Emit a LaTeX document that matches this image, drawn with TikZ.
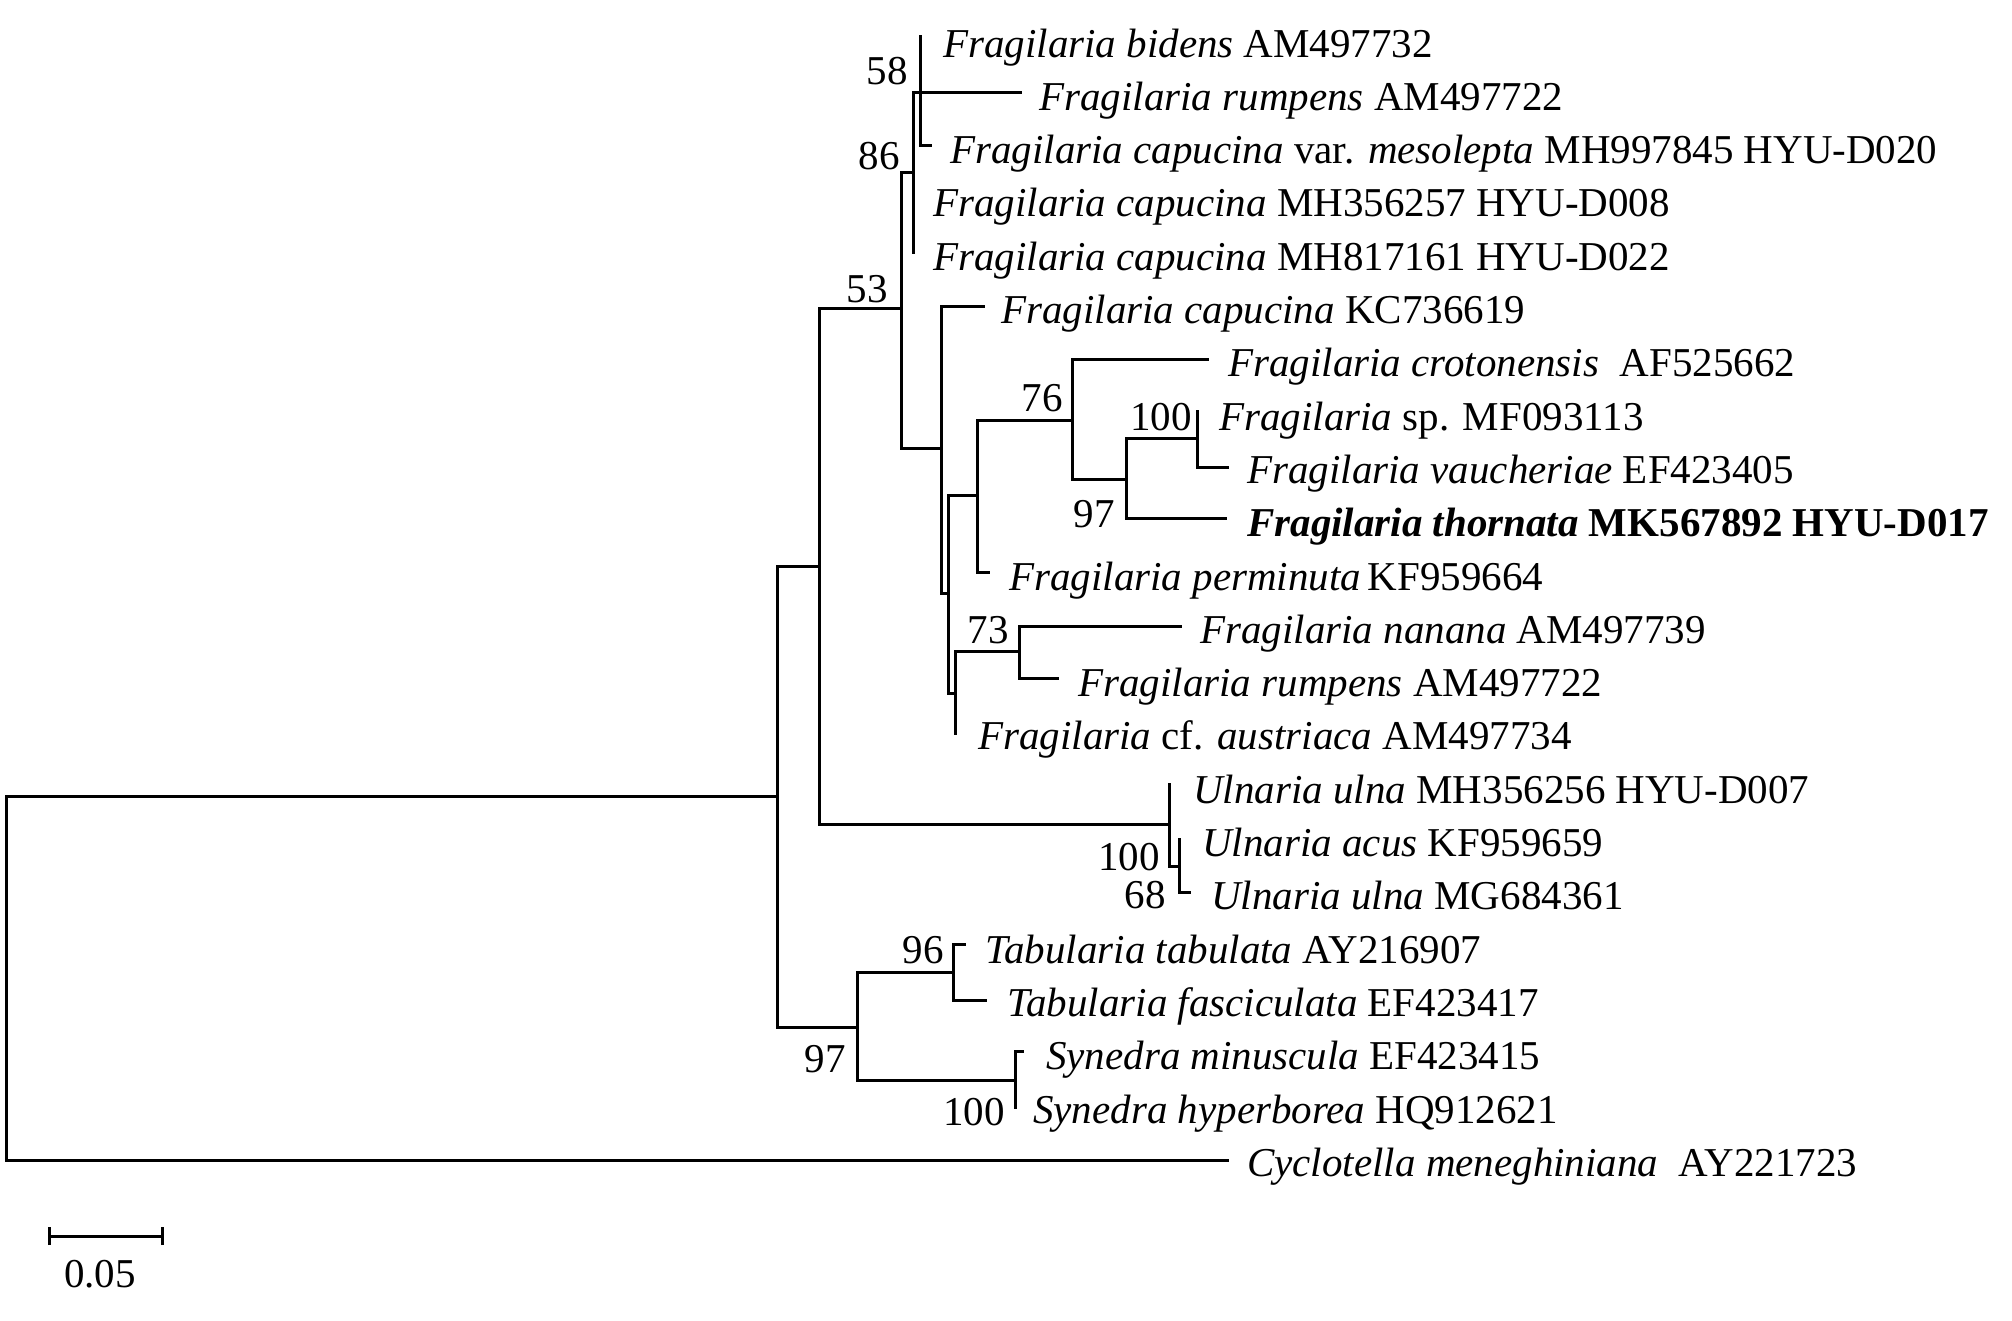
\documentclass[tikz,border=0pt]{standalone}
\usepackage{fontspec}
\setmainfont{Liberation Serif}
\begin{document}
\begin{tikzpicture}[x=1pt,y=-1pt,
  br/.style={line width=3pt,line cap=rect,line join=miter},
  taxon/.style={anchor=base west,inner sep=0pt,font=\fontsize{41}{41}\selectfont},
  boot/.style={anchor=base east,inner sep=0pt,font=\fontsize{41}{41}\selectfont}]
\useasboundingbox (0,0) rectangle (2012,1321);
% internal nodes
\coordinate (R) at (6,796);
\coordinate (A) at (777,796);
\coordinate (B) at (819,566);
\coordinate (N53) at (901,309);
\coordinate (N86) at (913,173);
\coordinate (N58) at (920,93);
\coordinate (C) at (941,448);
\coordinate (D) at (948,593);
\coordinate (F) at (977,495);
\coordinate (N76) at (1072,420);
\coordinate (N97) at (1126,479);
\coordinate (N100) at (1197,438);
\coordinate (E) at (955,693);
\coordinate (N73) at (1019,651);
\coordinate (U100) at (1169,824);
\coordinate (U68) at (1179,866);
\coordinate (T97) at (857,1027);
\coordinate (T96) at (953,972);
\coordinate (S100) at (1015,1080);
% tips
\coordinate (t0) at (920,37);
\coordinate (t1) at (1020,93);
\coordinate (t2) at (930,146);
\coordinate (t3) at (913,203);
\coordinate (t4) at (913,253);
\coordinate (t5) at (983,307);
\coordinate (t6) at (1207,359);
\coordinate (t7) at (1197,411);
\coordinate (t8) at (1227,467);
\coordinate (t9) at (1225,518);
\coordinate (t10) at (988,572);
\coordinate (t11) at (1180,626);
\coordinate (t12) at (1057,678);
\coordinate (t13) at (955,733);
\coordinate (t14) at (1169,784);
\coordinate (t15) at (1179,839);
\coordinate (t16) at (1189,892);
\coordinate (t17) at (964,944);
\coordinate (t18) at (985,1000);
\coordinate (t19) at (1022,1051);
\coordinate (t20) at (1015,1107);
\coordinate (t21) at (1227,1160);
% branches
\draw[br] (R|-A) -- (R|-t21);
\draw[br] (R|-A) -- (A);
\draw[br] (R|-t21) -- (t21);
\draw[br] (A|-B) -- (A|-T97);
\draw[br] (A|-B) -- (B);
\draw[br] (A|-T97) -- (T97);
\draw[br] (B|-N53) -- (B|-U100);
\draw[br] (B|-N53) -- (N53);
\draw[br] (B|-U100) -- (U100);
\draw[br] (N53|-N86) -- (N53|-C);
\draw[br] (N53|-N86) -- (N86);
\draw[br] (N53|-C) -- (C);
\draw[br] (N86|-N58) -- (N86|-t4);
\draw[br] (N86|-N58) -- (N58);
\draw[br] (N58|-t0) -- (N58|-t2);
\draw[br] (N58|-t1) -- (t1);
\draw[br] (N58|-t2) -- (t2);
\draw[br] (C|-t5) -- (C|-D);
\draw[br] (C|-t5) -- (t5);
\draw[br] (C|-D) -- (D);
\draw[br] (D|-F) -- (D|-E);
\draw[br] (D|-F) -- (F);
\draw[br] (D|-E) -- (E);
\draw[br] (F|-N76) -- (F|-t10);
\draw[br] (F|-N76) -- (N76);
\draw[br] (F|-t10) -- (t10);
\draw[br] (N76|-t6) -- (N76|-N97);
\draw[br] (N76|-t6) -- (t6);
\draw[br] (N76|-N97) -- (N97);
\draw[br] (N97|-N100) -- (N97|-t9);
\draw[br] (N97|-N100) -- (N100);
\draw[br] (N97|-t9) -- (t9);
\draw[br] (N100|-t7) -- (N100|-t8);
\draw[br] (N100|-t8) -- (t8);
\draw[br] (E|-N73) -- (E|-t13);
\draw[br] (E|-N73) -- (N73);
\draw[br] (N73|-t11) -- (N73|-t12);
\draw[br] (N73|-t11) -- (t11);
\draw[br] (N73|-t12) -- (t12);
\draw[br] (U100|-t14) -- (U100|-U68);
\draw[br] (U100|-U68) -- (U68);
\draw[br] (U68|-t15) -- (U68|-t16);
\draw[br] (U68|-t16) -- (t16);
\draw[br] (T97|-T96) -- (T97|-S100);
\draw[br] (T97|-T96) -- (T96);
\draw[br] (T97|-S100) -- (S100);
\draw[br] (T96|-t17) -- (T96|-t18);
\draw[br] (T96|-t17) -- (t17);
\draw[br] (T96|-t18) -- (t18);
\draw[br] (S100|-t19) -- (S100|-t20);
\draw[br] (S100|-t19) -- (t19);
% taxon labels
\node[taxon] (L0) at (943,57.1) {\textit{Fragilaria bidens} AM497732};
\node[taxon] (L1) at (1039,110.4) {\textit{Fragilaria rumpens} AM497722};
\node[taxon] (L2) at (950,163.7) {\textit{Fragilaria capucina} var. \textit{mesolepta} MH997845 HYU-D020};
\node[taxon] (L3) at (933,217.0) {\textit{Fragilaria capucina} MH356257 HYU-D008};
\node[taxon] (L4) at (933,270.3) {\textit{Fragilaria capucina} MH817161 HYU-D022};
\node[taxon] (L5) at (1001,323.6) {\textit{Fragilaria capucina} KC736619};
\node[taxon] (L6) at (1228,376.8) {\textit{Fragilaria crotonensis}\ \ AF525662};
\node[taxon] (L7) at (1219,430.1) {\textit{Fragilaria} sp. MF093113};
\node[taxon] (L8) at (1247,483.4) {\textit{Fragilaria vaucheriae} EF423405};
\node[taxon] (L9) at (1247,536.7) {\bfseries\itshape Fragilaria thornata \upshape MK567892 HYU-D017};
\node[taxon] (L10) at (1009,590.0) {\textit{Fragilaria perminuta}\,KF959664};
\node[taxon] (L11) at (1200,643.3) {\textit{Fragilaria nanana} AM497739};
\node[taxon] (L12) at (1078,696.6) {\textit{Fragilaria rumpens} AM497722};
\node[taxon] (L13) at (978,749.9) {\textit{Fragilaria} cf. \textit{austriaca} AM497734};
\node[taxon] (L14) at (1193,803.2) {\textit{Ulnaria ulna} MH356256 HYU-D007};
\node[taxon] (L15) at (1202,856.5) {\textit{Ulnaria acus} KF959659};
\node[taxon] (L16) at (1211,909.8) {\textit{Ulnaria ulna} MG684361};
\node[taxon] (L17) at (985,963.1) {\textit{Tabularia tabulata} AY216907};
\node[taxon] (L18) at (1007,1016.4) {\textit{Tabularia fasciculata} EF423417};
\node[taxon] (L19) at (1046,1069.7) {\textit{Synedra minuscula} EF423415};
\node[taxon] (L20) at (1033,1123.0) {\textit{Synedra hyperborea} HQ912621};
\node[taxon] (L21) at (1247,1176.3) {\textit{Cyclotella meneghiniana}\ \ AY221723};
% bootstrap values
\node[boot] (b58) at (908,85) {58};
\node[boot] (b86) at (900,170) {86};
\node[boot] (b53) at (888,303) {53};
\node[boot] (b76) at (1063,411) {76};
\node[boot] (b100a) at (1192,430) {100};
\node[boot] (b97a) at (1115,527) {97};
\node[boot] (b73) at (1009,643) {73};
\node[boot] (b100b) at (1160,870) {100};
\node[boot] (b68) at (1166,908) {68};
\node[boot] (b96) at (944,963) {96};
\node[boot] (b97b) at (846,1072) {97};
\node[boot] (b100c) at (1005,1125) {100};
% scale bar
\coordinate (s1) at (49,1236);
\coordinate (s2) at (162,1236);
\draw[line width=3pt] (s1) -- (s2);
\draw[line width=3pt] ([yshift=-9pt]s1) -- ([yshift=9pt]s1);
\draw[line width=3pt] ([yshift=-9pt]s2) -- ([yshift=9pt]s2);
\node[anchor=base,inner sep=0pt,font=\fontsize{41}{41}\selectfont] (sb) at (100,1287) {0.05};
\end{tikzpicture}
\end{document}
